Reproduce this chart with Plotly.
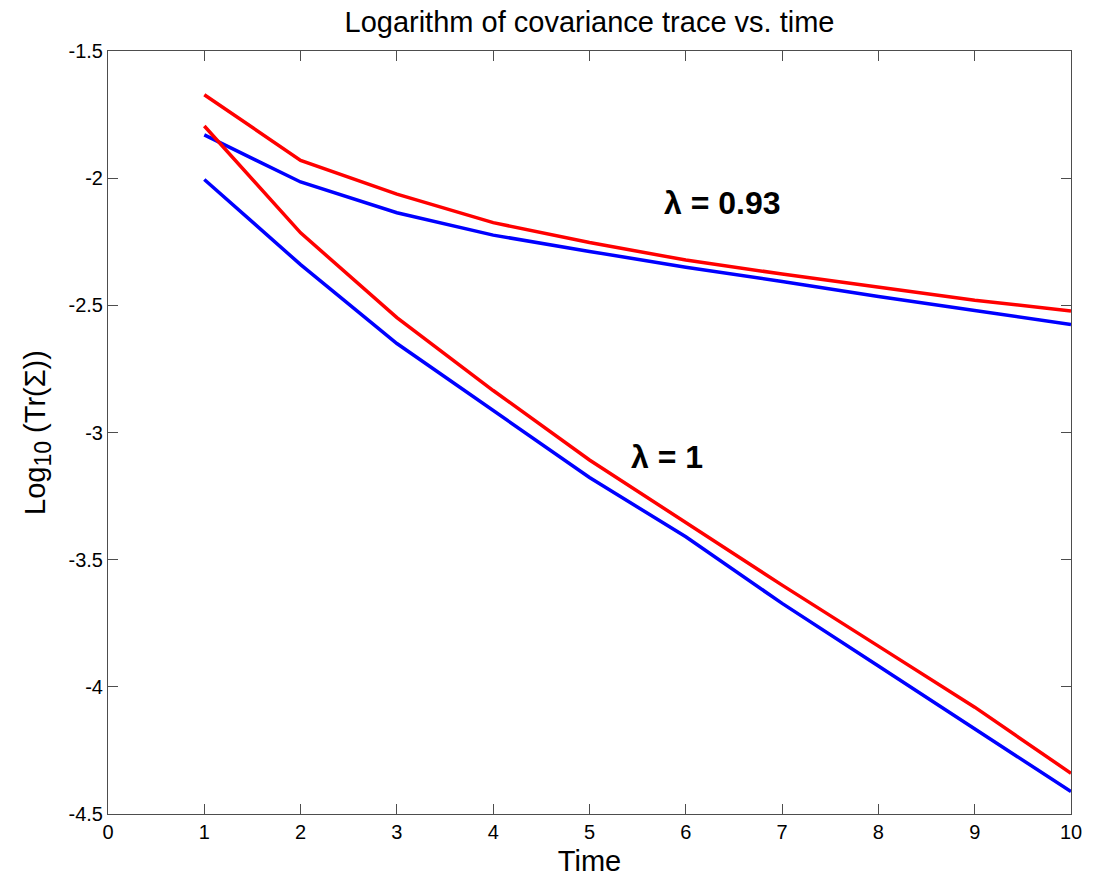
import plotly.graph_objects as go

time = [1, 2, 3, 4, 5, 6, 7, 8, 9, 10]

# lambda = 0.93
red_093 = [-1.672, -1.93, -2.063, -2.175, -2.253, -2.322, -2.377, -2.43, -2.48, -2.522]
blue_093 = [-1.83, -2.015, -2.136, -2.224, -2.288, -2.35, -2.406, -2.465, -2.52, -2.575]
# lambda = 1
red_1 = [-1.795, -2.215, -2.548, -2.835, -3.108, -3.355, -3.6, -3.84, -4.08, -4.34]
blue_1 = [-2.005, -2.34, -2.65, -2.915, -3.177, -3.41, -3.672, -3.918, -4.165, -4.412]

x_ticks = [0, 1, 2, 3, 4, 5, 6, 7, 8, 9, 10]
y_ticks = [-1.5, -2, -2.5, -3, -3.5, -4, -4.5]
y_ticktext = ["-1.5", "-2", "-2.5", "-3", "-3.5", "-4", "-4.5"]

labels = ["λ = 0.93", "λ = 1"]
label_x = [6.38, 5.80]
label_y = [-2.098, -3.097]

font = "Liberation Sans, Arial, sans-serif"
axcol = "#4d4d4d"

fig = go.Figure()
for ys, col in [(red_093, "#ff0000"), (blue_093, "#0000ff"), (red_1, "#ff0000"), (blue_1, "#0000ff")]:
    fig.add_trace(go.Scatter(x=time, y=ys, mode="lines",
                             line=dict(color=col, width=3.5), showlegend=False))

for t, lx, ly in zip(labels, label_x, label_y):
    fig.add_annotation(x=lx, y=ly, text="<b>" + t + "</b>", showarrow=False,
                       font=dict(family=font, size=32, color="black"))

axis_common = dict(showline=True, linecolor=axcol, linewidth=1, mirror="ticks",
                   ticks="inside", ticklen=10, tickcolor=axcol, showgrid=False,
                   zeroline=False, tickfont=dict(family=font, size=20, color="black"))

fig.update_layout(
    width=1094, height=884,
    margin=dict(l=108, r=19, t=51, b=70),
    paper_bgcolor="white", plot_bgcolor="white",
    title=dict(text="Logarithm of covariance trace vs. time", x=0.5, xanchor="center",
               xref="paper", yref="container", y=1 - 22 / 884, yanchor="middle",
               font=dict(family=font, size=29, color="black")),
    xaxis=dict(range=[0, 10], tickvals=x_ticks,
               title=dict(text="Time", font=dict(family=font, size=29, color="black"), standoff=8),
               **axis_common),
    yaxis=dict(range=[-4.5, -1.5], tickvals=y_ticks, ticktext=y_ticktext,
               title=dict(text="Log<sub><span style='font-size:23px'>10</span></sub> (Tr(Σ))",
                          font=dict(family=font, size=29, color="black"), standoff=14),
               **axis_common),
)

fig.write_html("out.html", config={"displayModeBar": False},
               post_script="document.body.style.margin='0';")
